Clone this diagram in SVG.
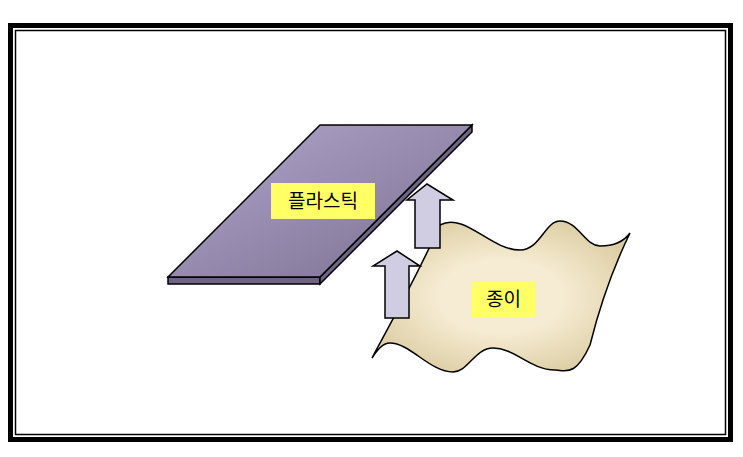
<svg xmlns="http://www.w3.org/2000/svg" width="743" height="457" viewBox="0 0 743 457">
<defs>
<linearGradient id="pl" x1="0" y1="0" x2="1" y2="1"><stop offset="0" stop-color="#b3a6cc"/><stop offset="1" stop-color="#7a6f90"/></linearGradient>
<radialGradient id="pp" cx="0.5" cy="0.5" r="0.6"><stop offset="0.4" stop-color="#f6ecd3"/><stop offset="1" stop-color="#d9ca9e"/></radialGradient>
<style>
.lbl{fill:#ffff66}
.t{font-family:"Noto Sans CJK KR","Noto Sans",sans-serif;font-size:19px;fill:#000;text-anchor:middle}
.s{stroke:#000;stroke-width:1.5;stroke-linejoin:miter}
.arr{fill:#d0cce2;stroke:#000;stroke-width:1.5}
</style>
</defs>
<rect width="743" height="457" fill="#fff"/>
<rect x="10.5" y="25.5" width="720" height="414" fill="none" stroke="#000" stroke-width="5"/>
<rect x="15.5" y="30.5" width="710" height="404" fill="none" stroke="#000" stroke-width="1.5"/>
<g id="paper">
<path class="s" fill="url(#pp)" d="M440,225 C465,212 490,250 520,250 C540,250 545,221 560,221 C578,221 585,246 600,246 C615,246 625,240 630,233 C612,270 600,305 590,345 C575,378 565,370 555,370 C530,370 515,348 493,348 C475,348 468,372 453,372 C430,372 410,343 390,343 C382,343 376,352 372,358 C395,315 415,280 440,225 Z"/>
</g>
<g id="plastic">
<path class="s" fill="#6e6285" d="M168,277 L320,277 L320,284 L168,284 Z"/>
<path class="s" fill="#6e6285" d="M472,125 L472,132 L320,284 L320,277 Z"/>
<path class="s" fill="url(#pl)" d="M320,125 L472,125 L320,277 L168,277 Z"/>
</g>
<g id="connectors">
<path class="arr" d="M415,248 L415,200 L407,200 L427,184 L453,200 L440,200 L440,248 Z"/>
<path class="arr" d="M385,318 L385,266 L373,266 L397,251 L420,266 L409,266 L409,318 Z"/>
</g>
<g id="label-plastic">
<rect class="lbl" x="271" y="183" width="104" height="36"/>
<text class="t" x="323" y="208">플라스틱</text>
</g>
<g id="label-paper">
<rect class="lbl" x="472" y="282" width="63" height="35"/>
<text class="t" x="503.5" y="306">종이</text>
</g>
</svg>
